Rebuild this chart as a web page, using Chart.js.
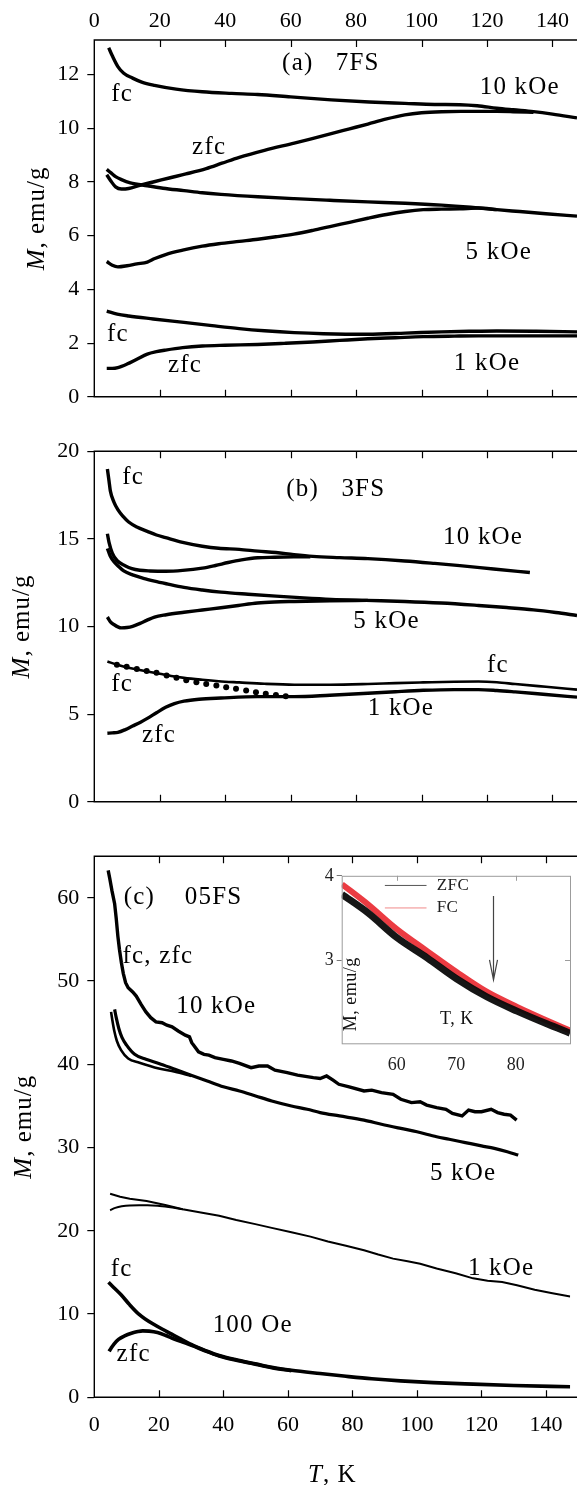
<!DOCTYPE html>
<html>
<head>
<meta charset="utf-8">
<script src="https://cdn.jsdelivr.net/npm/chart.js@4.4.1/dist/chart.umd.min.js"></script>
<style>
  html, body { margin: 0; padding: 0; background: #fff; }
  #page { position: relative; width: 577px; height: 1485px; overflow: hidden; background: #fff; }
  canvas { position: absolute; }
</style>
</head>
<body>
<div id="page">
  <canvas id="panelA" width="577" height="418" style="left:0;top:0"></canvas>
  <canvas id="panelB" width="577" height="393" style="left:0;top:430px"></canvas>
  <canvas id="panelC" width="577" height="650" style="left:0;top:835px"></canvas>
  <canvas id="inset" width="267" height="220" style="left:310px;top:862px"></canvas>
</div>
<script>
// ---- axes ----
const xMax = 147.5;
const xTicks = [0, 20, 40, 60, 80, 100, 120, 140];
const yTicksA = [0, 2, 4, 6, 8, 10, 12];
const yTicksB = [0, 5, 10, 15, 20];
const yTicksC = [0, 10, 20, 30, 40, 50, 60];
const insetXTicks = [60, 70, 80];
const insetYTicks = [3, 4];

// ---- (a) 7FS : [T, M] ----
const a10fc = [[4.4,13.0],[5.5,12.7],[7.2,12.3],[9,12.05],[11.7,11.87],[14.5,11.72],[18.4,11.6],[25,11.46],[33,11.36],[42,11.3],[49.9,11.26],[60,11.17],[72.4,11.06],[84,10.98],[94.9,10.93],[104,10.89],[111.7,10.88],[117,10.84],[123,10.75],[128,10.69],[134.2,10.62],[140,10.53],[147.5,10.39]];
const a10zfc = [[3.8,8.27],[5,8.05],[6.5,7.82],[8.3,7.74],[10.5,7.76],[13.9,7.88],[18,8.0],[22.9,8.15],[28,8.3],[34.2,8.5],[39,8.7],[44.3,8.92],[52,9.18],[61.1,9.45],[66,9.6],[72.4,9.8],[78,9.98],[83.6,10.16],[89,10.34],[94.9,10.5],[100,10.58],[106.1,10.62],[112,10.63],[117.4,10.63],[123,10.63],[128,10.62],[134.2,10.6]];
const a5fc = [[3.8,8.47],[5,8.35],[6.5,8.2],[8.3,8.09],[11,7.97],[16.2,7.86],[21,7.77],[27.4,7.68],[33,7.6],[38.7,7.54],[50,7.45],[61.1,7.38],[72,7.32],[83.6,7.26],[95,7.21],[106.1,7.14],[115,7.06],[123,6.97],[130,6.9],[138,6.82],[147.5,6.73]];
const a5zfc = [[3.8,5.04],[5.5,4.9],[7.2,4.84],[10,4.88],[13,4.95],[16.2,5.02],[18.5,5.15],[21.8,5.3],[27,5.46],[33,5.61],[38,5.7],[44.3,5.79],[50,5.87],[55.5,5.96],[61,6.06],[66.8,6.2],[72,6.34],[78,6.5],[83.6,6.65],[89.3,6.79],[95,6.9],[100.5,6.97],[106,6.99],[111.7,7.0],[117.4,7.03],[123,6.97]];
const a1fc = [[3.8,3.19],[7,3.08],[10.5,3.01],[18,2.9],[27.4,2.77],[36,2.65],[44.3,2.54],[52,2.46],[61.1,2.39],[70,2.35],[83.6,2.33],[95,2.37],[106.1,2.42],[115,2.44],[123,2.45],[135,2.44],[147.5,2.42]];
const a1zfc = [[3.8,1.06],[5.5,1.06],[7.2,1.09],[10,1.22],[13,1.4],[16.2,1.59],[19,1.68],[21.8,1.74],[27,1.83],[33,1.89],[40,1.92],[49.9,1.95],[58,1.99],[66.8,2.04],[75,2.1],[83.6,2.16],[92,2.2],[100.5,2.24],[110,2.26],[117.4,2.27],[130,2.27],[147.5,2.27]];

// ---- (b) 3FS ----
const b10fc = [[4,18.99],[4.5,18.3],[4.9,17.74],[6,17.1],[7.2,16.67],[8.8,16.28],[10.5,15.96],[13,15.68],[16.2,15.43],[19,15.22],[21.8,15.07],[27,14.8],[33,14.58],[38,14.46],[44.3,14.4],[50,14.3],[55.5,14.22],[61,14.1],[66.8,14.0],[75,13.93],[83.6,13.87],[94.9,13.74],[104,13.6],[111.7,13.47],[122,13.28],[133.1,13.08]];
const b10zfc = [[4,15.29],[4.5,14.8],[5.5,14.19],[7,13.75],[9.4,13.47],[11.5,13.3],[13.9,13.21],[17,13.17],[21.8,13.15],[27,13.2],[33,13.33],[37,13.48],[40.9,13.65],[45,13.8],[49.9,13.92],[55,13.95],[61.1,13.97],[66,13.98]];
const b5fc = [[4,14.45],[4.5,14.2],[4.9,14.01],[6,13.7],[7.2,13.47],[9,13.17],[11.7,12.94],[15,12.75],[18.4,12.59],[22,12.44],[27.4,12.23],[33,12.08],[38.7,11.96],[47,11.84],[55.5,11.73],[64,11.63],[72.4,11.55],[83,11.49],[94.9,11.43],[106,11.34],[117.4,11.2],[126,11.08],[134.2,10.95],[141,10.8],[147.5,10.63]];
const b5zfc = [[4,10.54],[5,10.25],[6.1,10.1],[7.2,9.98],[8.3,9.92],[10,9.94],[11.7,10.01],[14,10.18],[16,10.35],[18.4,10.54],[22,10.67],[27.4,10.81],[33,10.94],[38.7,11.07],[44,11.2],[49.9,11.34],[55,11.4],[61.1,11.43],[72,11.47],[83.6,11.49]];
const b1fc = [[4,8.0],[7,7.82],[10,7.66],[13,7.55],[16.2,7.43],[20,7.3],[23.5,7.18],[27.4,7.07],[33,6.96],[38,6.88],[44.3,6.81],[52,6.73],[61.1,6.68],[72,6.68],[83.6,6.72],[92,6.77],[100.5,6.81],[110,6.85],[117.4,6.86],[123,6.82],[128.6,6.72],[138,6.56],[147.5,6.4]];
const b1dots = [[6.9,7.82],[9.9,7.7],[13,7.58],[16,7.46],[19,7.36],[22.1,7.2],[25.1,7.07],[28.1,6.94],[31.2,6.82],[34.2,6.72],[37.3,6.63],[40.3,6.54],[43.3,6.45],[46.4,6.35],[49.4,6.25],[52.4,6.17],[55.5,6.09],[58.5,6.02]];
const b1zfc = [[4,3.91],[5.5,3.93],[7.2,3.96],[9.5,4.12],[11.7,4.32],[14,4.53],[16.2,4.76],[19,5.08],[21.8,5.39],[24.5,5.6],[27.4,5.74],[32,5.85],[38.7,5.92],[49.9,6.0],[61.1,6.0],[72,6.08],[83.6,6.19],[92,6.28],[100.5,6.36],[110,6.4],[117.4,6.4],[123,6.35],[128.6,6.27],[138,6.12],[147.5,5.97]];

// ---- (c) 05FS ----
const c10 = [[4.3,63.3],[4.8,62.3],[5.5,60.8],[6.3,59.3],[6.8,57.5],[7.3,55.4],[7.8,53.8],[8.4,52.2],[9.0,50.9],[9.7,49.8],[10.5,49.2],[11.9,48.7],[13,48.2],[14.5,47.2],[16,46.3],[17.5,45.6],[19.1,45.1],[21,45.0],[22.5,44.7],[24.1,44.5],[26,44.0],[28.2,43.5],[29.5,43.3],[30.2,42.6],[30.8,42.3],[32.3,41.5],[34,41.2],[35.5,41.1],[37.4,40.8],[40,40.6],[42.5,40.4],[45,40.1],[48.6,39.6],[51,39.8],[53.7,39.8],[56,39.3],[59.8,39.0],[63,38.7],[67.9,38.4],[70,38.3],[72,38.6],[74,38.1],[75.8,37.6],[79,37.3],[83.6,36.8],[86,36.9],[89,36.6],[92.6,36.4],[95,35.8],[98.3,35.4],[101,35.5],[103,35.1],[106.1,34.8],[109,34.6],[111,34.1],[114,33.8],[116,34.5],[118,34.3],[120,34.3],[123,34.6],[125,34.2],[127,34.0],[129,33.9],[130.9,33.3]];
const c5zfc = [[5.2,46.3],[5.6,45.3],[6.2,44.0],[7.0,42.8],[8.3,41.7],[10.5,40.7],[14,40.2],[20,39.5],[25,39.1],[30,38.6]];
const c5fc = [[6.3,46.6],[6.8,45.6],[7.6,44.3],[8.6,43.2],[10,42.3],[12.5,41.2],[16,40.6],[20,40.1],[25,39.4],[30,38.7],[35,38.0],[40,37.3],[45,36.8],[50,36.2],[55,35.6],[61.1,35.0],[66,34.6],[70,34.2],[76,33.8],[83.6,33.3],[89,32.8],[95,32.3],[100,31.9],[106.1,31.3],[110,31.0],[115,30.6],[120,30.2],[124,29.9],[128,29.5],[131.4,29.1]];
const c1fc = [[4.9,24.45],[8,24.1],[11,23.85],[16.2,23.58],[22,23.1],[27.4,22.6],[33,22.2],[38.7,21.8],[44,21.3],[49.9,20.8],[55,20.35],[61.1,19.83],[67,19.3],[72.4,18.72],[78,18.2],[83.6,17.66],[88,17.15],[92.6,16.66],[97.1,16.35],[101,16.05],[106.1,15.48],[112,14.9],[117.4,14.29],[121.9,14.0],[126.4,13.85],[131,13.45],[136.5,12.92],[142,12.5],[147.5,12.12]];
const c1zfc = [[4.9,22.47],[6.5,22.75],[8.5,22.95],[11,23.05],[13.9,23.06],[16.5,23.06],[19.6,23.0],[23,22.85],[27.4,22.6]];
const c100fc = [[4.4,13.82],[6,13.2],[8.3,12.32],[11,11.1],[13.9,9.95],[16,9.35],[18.4,8.77],[21,8.2],[24,7.58],[27,6.95],[30.8,6.2],[34.5,5.6],[38.7,5.01],[44,4.5],[49.9,4.03],[55,3.6],[61.1,3.24],[70,2.85],[78,2.52],[86,2.22],[94.9,1.97],[105,1.76],[117.4,1.58],[130,1.42],[147.5,1.26]];
const c100zfc = [[4.6,5.52],[5.2,5.9],[6.1,6.4],[7.5,6.95],[9.4,7.38],[11.5,7.7],[13.5,7.9],[15,7.98],[17,7.95],[19.6,7.78],[22,7.45],[24,7.11],[27,6.7],[30.8,6.15],[34.5,5.55],[38.7,4.96],[44,4.45],[49.9,3.98],[55,3.56],[61.1,3.2]];

// ---- inset (05FS, 50-90 K) ----
const insetZfc = [[50.8,3.78],[55.2,3.56],[60,3.27],[65.1,3.03],[70.1,2.78],[75.1,2.57],[80.2,2.40],[85.2,2.25],[89.1,2.14]];
const insetFc = [[50.8,3.90],[55.2,3.66],[60,3.37],[65.1,3.11],[70.1,2.86],[75.1,2.63],[80.2,2.45],[85.2,2.29],[89.1,2.17]];

// text drawn inside the panels, in data units
const notesA = [
  {text: '(a)   7FS', t: 72.3, m: 12.4},
  {text: '10 kOe', t: 130, m: 11.52},
  {text: 'fc', t: 8.5, m: 11.27},
  {text: 'zfc', t: 35.1, m: 9.28},
  {text: '5 kOe', t: 123.6, m: 5.39},
  {text: 'fc', t: 7.2, m: 2.34},
  {text: 'zfc', t: 27.7, m: 1.18},
  {text: '1 kOe', t: 120, m: 1.24}
];
const notesB = [
  {text: 'fc', t: 11.9, m: 18.49},
  {text: '(b)   3FS', t: 73.8, m: 17.83},
  {text: '10 kOe', t: 118.8, m: 15.07},
  {text: '5 kOe', t: 89.3, m: 10.31},
  {text: 'fc', t: 123.3, m: 7.79},
  {text: 'fc', t: 8.5, m: 6.72},
  {text: '1 kOe', t: 93.7, m: 5.3},
  {text: 'zfc', t: 19.8, m: 3.79}
];
const notesC = [
  {text: '(c)    05FS', t: 27.5, m: 60.1},
  {text: 'fc, zfc', t: 19.7, m: 52.9},
  {text: '10 kOe', t: 37.8, m: 46.9},
  {text: '5 kOe', t: 114.3, m: 26.9},
  {text: '1 kOe', t: 126.1, m: 15.5},
  {text: 'fc', t: 8.5, m: 15.3},
  {text: '100 Oe', t: 49.1, m: 8.69},
  {text: 'zfc', t: 12.2, m: 5.13}
];

Chart.defaults.font.family = "'Liberation Serif', 'Times New Roman', serif";
Chart.defaults.color = '#000';

function pts(arr) {
  return arr.map(p => ({x: p[0], y: p[1]}));
}

function curve(arr, w, extra) {
  return Object.assign({
    data: pts(arr), showLine: true, borderColor: '#000', borderWidth: w,
    pointRadius: 0, cubicInterpolationMode: 'monotone', fill: false
  }, extra || {});
}

function useTicks(list) {
  return s => { s.ticks = list.map(v => ({value: v})); };
}

function yScale(ticks, max) {
  return {
    type: 'linear', min: 0, max: max,
    afterBuildTicks: useTicks(ticks),
    afterFit: s => { s.width = 94.3; },
    grid: {drawOnChartArea: false, drawTicks: true, tickLength: 7, color: '#000', lineWidth: 1.2},
    border: {display: false},
    ticks: {padding: 8, font: {size: 22}, color: '#000'}
  };
}

function xScale(pos, show, h, pad) {
  return {
    type: 'linear', min: 0, max: xMax, position: pos, display: show,
    afterBuildTicks: useTicks(xTicks),
    afterFit: s => { s.height = h; },
    grid: {display: false, drawTicks: false},
    border: {display: false},
    ticks: {padding: pad, font: {size: 22}, color: '#000', maxRotation: 0}
  };
}

// italic symbol + plain rest, centred on (x, y)
function mixedText(ctx, sym, rest, x, y, size) {
  ctx.font = 'italic ' + size + 'px "Liberation Serif"';
  const w1 = ctx.measureText(sym).width;
  ctx.font = size + 'px "Liberation Serif"';
  const w2 = ctx.measureText(rest).width;
  let left = x - (w1 + w2) / 2;
  ctx.textAlign = 'left';
  ctx.textBaseline = 'middle';
  ctx.font = 'italic ' + size + 'px "Liberation Serif"';
  ctx.fillText(sym, left, y);
  ctx.font = size + 'px "Liberation Serif"';
  ctx.fillText(rest, left + w1, y);
}

// open frame: left, top and bottom edges, x ticks pointing inwards
const framePlugin = {
  id: 'frame',
  afterDraw(chart, args, o) {
    const {ctx, chartArea: a, width} = chart;
    const x = chart.scales.x;
    ctx.save();
    ctx.strokeStyle = '#000';
    ctx.lineWidth = 1.4;
    ctx.beginPath();
    ctx.moveTo(width + 2, a.top);
    ctx.lineTo(a.left, a.top);
    ctx.lineTo(a.left, a.bottom);
    ctx.lineTo(width + 2, a.bottom);
    ctx.stroke();
    ctx.lineWidth = 1.2;
    ctx.beginPath();
    xTicks.slice(1).forEach(v => {
      const px = Math.round(x.getPixelForValue(v)) + 0.5;
      ctx.moveTo(px, a.top);
      ctx.lineTo(px, a.top + 7);
      ctx.moveTo(px, a.bottom);
      ctx.lineTo(px, a.bottom - 7);
    });
    ctx.stroke();
    ctx.fillStyle = '#000';
    ctx.letterSpacing = '1px';
    ctx.save();
    ctx.translate(o.titleX, (a.top + a.bottom) / 2);
    ctx.rotate(-Math.PI / 2);
    mixedText(ctx, 'M', ', emu/g', 0, 0, 25);
    ctx.restore();
    if (o.xTitle) {
      mixedText(ctx, 'T', ', K', (a.left + a.right) / 2, a.bottom + 78, 25);
    }
    ctx.restore();
  }
};

const notesPlugin = {
  id: 'notes',
  afterDatasetsDraw(chart, args, o) {
    const {ctx} = chart;
    const x = chart.scales.x, y = chart.scales.y;
    ctx.save();
    ctx.fillStyle = '#000';
    ctx.textAlign = 'center';
    ctx.textBaseline = 'middle';
    ctx.font = '25px "Liberation Serif"';
    ctx.letterSpacing = '1.2px';
    (o.items || []).forEach(it => {
      ctx.fillText(it.text, x.getPixelForValue(it.t), y.getPixelForValue(it.m));
    });
    ctx.restore();
  }
};

function panel(id, datasets, scales, padding, notes, frame) {
  return new Chart(document.getElementById(id), {
    type: 'scatter',
    data: {datasets: datasets},
    options: {
      responsive: false, animation: false, devicePixelRatio: 1,
      layout: {padding: padding, autoPadding: false},
      scales: scales,
      plugins: {legend: {display: false}, tooltip: {enabled: false}, notes: {items: notes}, frame: frame}
    },
    plugins: [framePlugin, notesPlugin]
  });
}

panel('panelA', [
  curve(a10fc, 3.4), curve(a10zfc, 3.4), curve(a5fc, 3.4), curve(a5zfc, 3.4),
  curve(a1fc, 3.4), curve(a1zfc, 3.4)
], {x: xScale('top', true, 40, 6), y: yScale(yTicksA, 13.29)},
  {top: 0, left: 0, right: 0, bottom: 3}, notesA, {titleX: 37});

panel('panelB', [
  curve(b10fc, 3.4), curve(b10zfc, 3.4), curve(b5fc, 3.4), curve(b5zfc, 3.4),
  curve(b1fc, 2.6), curve(b1zfc, 3.4),
  {data: pts(b1dots), showLine: false, pointRadius: 3, pointBackgroundColor: '#000', pointBorderWidth: 0}
], {x: xScale('bottom', false, 0, 0), y: yScale(yTicksB, 20)},
  {top: 14.3, left: 0, right: 0, bottom: 3.7}, notesB, {titleX: 22});

panel('panelC', [
  curve(c10, 3.4, {cubicInterpolationMode: 'default', tension: 0}),
  curve(c5zfc, 2.6), curve(c5fc, 3.2),
  curve(c1fc, 2, {tension: 0, cubicInterpolationMode: 'default'}), curve(c1zfc, 2),
  curve(c100fc, 3.6), curve(c100zfc, 3.6)
], {x: xScale('bottom', true, 87.7, 14.5), y: yScale(yTicksC, 65)},
  {top: 14, left: 0, right: 0, bottom: 0}, notesC, {titleX: 24, xTitle: true});

// ---- inset ----
const insetPlugin = {
  id: 'insetDeco',
  beforeDatasetsDraw(chart) {
    const {ctx, chartArea: a} = chart;
    ctx.save();
    ctx.fillStyle = '#fff';
    ctx.fillRect(a.left, a.top, a.right - a.left, a.bottom - a.top);
    ctx.restore();
  },
  afterDraw(chart) {
    const {ctx, chartArea: a} = chart;
    const x = chart.scales.x, y = chart.scales.y;
    ctx.save();
    ctx.strokeStyle = '#9c9c9c';
    ctx.lineWidth = 1;
    ctx.strokeRect(a.left + 0.5, a.top + 0.5, a.right - a.left, a.bottom - a.top);
    ctx.beginPath();
    [60, 80].forEach(v => {
      const px = Math.round(x.getPixelForValue(v)) + 0.5;
      ctx.moveTo(px, a.top);
      ctx.lineTo(px, a.top + 5);
    });
    const p3 = Math.round(y.getPixelForValue(3)) + 0.5;
    ctx.moveTo(a.right, p3);
    ctx.lineTo(a.right - 5, p3);
    ctx.stroke();

    // legend
    ctx.lineWidth = 1;
    ctx.strokeStyle = '#555';
    ctx.beginPath();
    ctx.moveTo(x.getPixelForValue(58.0), y.getPixelForValue(3.886));
    ctx.lineTo(x.getPixelForValue(65.0), y.getPixelForValue(3.886));
    ctx.stroke();
    ctx.strokeStyle = '#f08a8a';
    ctx.beginPath();
    ctx.moveTo(x.getPixelForValue(58.0), y.getPixelForValue(3.62));
    ctx.lineTo(x.getPixelForValue(65.0), y.getPixelForValue(3.62));
    ctx.stroke();
    ctx.fillStyle = '#222';
    ctx.font = '17px "Liberation Serif"';
    ctx.textAlign = 'left';
    ctx.textBaseline = 'middle';
    ctx.letterSpacing = '0.5px';
    ctx.fillText('ZFC', x.getPixelForValue(66.7), y.getPixelForValue(3.886));
    ctx.fillText('FC', x.getPixelForValue(66.7), y.getPixelForValue(3.62));

    // arrow at 76 K
    const ax = Math.round(x.getPixelForValue(76.1)) + 0.5;
    const ay0 = y.getPixelForValue(3.76), ay1 = y.getPixelForValue(2.77);
    ctx.strokeStyle = '#444';
    ctx.lineWidth = 1.2;
    ctx.beginPath();
    ctx.moveTo(ax, ay0);
    ctx.lineTo(ax, ay1);
    ctx.moveTo(ax - 4, ay1 - 20);
    ctx.lineTo(ax, ay1);
    ctx.lineTo(ax + 4, ay1 - 20);
    ctx.stroke();

    // axis titles
    ctx.fillStyle = '#111';
    ctx.font = '18px "Liberation Serif"';
    ctx.textAlign = 'center';
    ctx.fillText('T, K', x.getPixelForValue(70.1), y.getPixelForValue(2.30));
    ctx.save();
    ctx.translate(a.left + 10, y.getPixelForValue(2.6));
    ctx.rotate(-Math.PI / 2);
    ctx.fillText('M, emu/g', 0, 0);
    ctx.restore();
    ctx.restore();
  }
};

new Chart(document.getElementById('inset'), {
  type: 'scatter',
  data: {datasets: [
    curve(insetZfc, 7, {borderColor: 'rgba(10,10,10,0.95)'}),
    curve(insetFc, 6, {borderColor: 'rgba(232,32,40,0.88)'})
  ]},
  options: {
    responsive: false, animation: false, devicePixelRatio: 1,
    layout: {padding: {top: 7.3, right: 7, left: 0, bottom: 0}, autoPadding: false},
    scales: {
      x: {
        type: 'linear', min: 50.75, max: 89.1,
        afterBuildTicks: useTicks(insetXTicks),
        afterFit: s => { s.height = 38.7; },
        grid: {display: false, drawTicks: false}, border: {display: false},
        ticks: {padding: 10.9, font: {size: 18}, color: '#222'}
      },
      y: {
        type: 'linear', min: 2.02, max: 4.0,
        afterBuildTicks: useTicks(insetYTicks),
        afterFit: s => { s.width = 31.7; },
        grid: {drawOnChartArea: false, drawTicks: true, tickLength: 5, color: '#777', lineWidth: 1},
        border: {display: false},
        ticks: {padding: 3, font: {size: 18}, color: '#222'}
      }
    },
    plugins: {legend: {display: false}, tooltip: {enabled: false}}
  },
  plugins: [insetPlugin]
});
</script>
</body>
</html>
